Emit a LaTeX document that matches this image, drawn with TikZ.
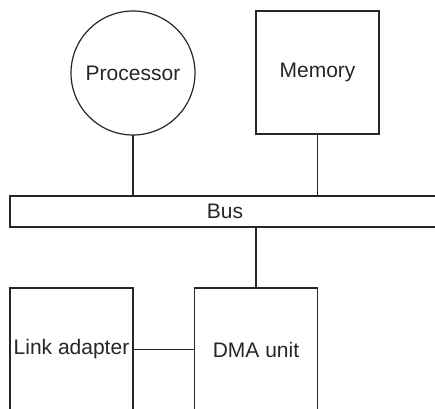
\documentclass[tikz,border=0pt]{standalone}
\usepackage{fontspec}
\setmainfont{Liberation Sans}
\begin{document}
\begin{tikzpicture}[x=1pt,y=-1pt,
  every node/.style={font=\fontsize{21}{24}\selectfont, text=black!85, inner sep=0pt, outer sep=0pt},
  unit/.style={draw=black!85, line width=1.2pt, minimum width=123pt, minimum height=123pt},
  cpu/.style={draw=black!85, line width=1.2pt, circle, minimum size=124pt},
  busbar/.style={draw=black!85, line width=1.2pt, minimum width=430pt, minimum height=31pt},
  link/.style={draw=black!85, line width=1.2pt}]
\useasboundingbox (0,0) rectangle (435,408);
\clip (0,0) rectangle (435,408);
% components
\node[cpu]    (proc) at (133,73)      {Processor};
\node[unit]   (mem)  at (317.5,72.5)  {Memory};
\node[busbar] (bus)  at (225,211.5)   {Bus};
\node[unit]   (link) at (71.5,349.5)  {Link adapter};
\node[unit]   (dma)  at (256,349.5)   {DMA unit};
% connections
\draw[link] (proc.south) -- (proc.south |- bus.north);
\draw[link] (mem.south) -- (mem.south |- bus.north);
\draw[link] (dma.north) -- (dma.north |- bus.south);
\draw[link] (link.east) -- (dma.west);
\end{tikzpicture}
\end{document}
